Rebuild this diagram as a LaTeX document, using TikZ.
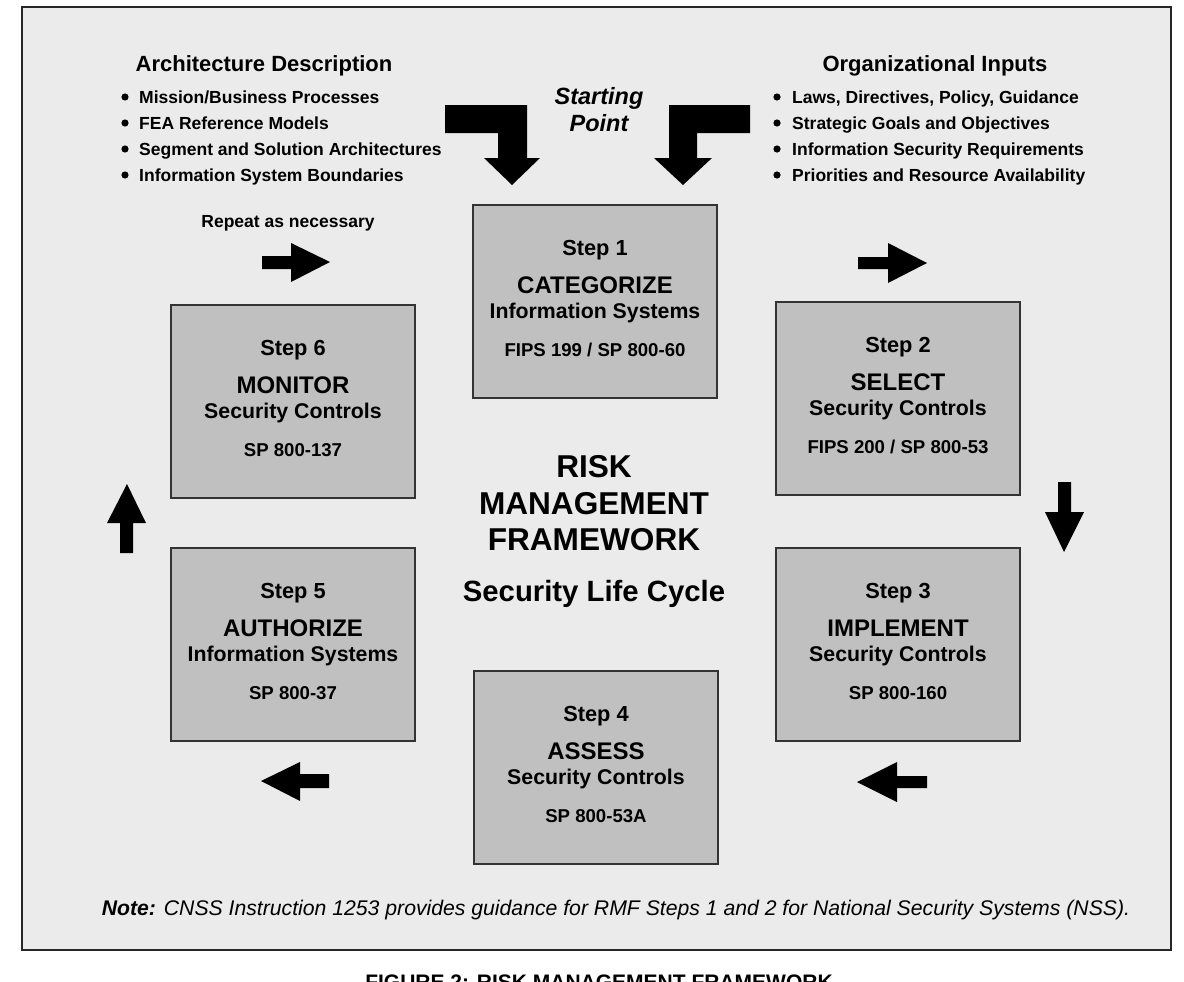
\documentclass[tikz,border=0pt]{standalone}
\usepackage{fontspec}
\setmainfont{Liberation Sans}
\definecolor{bgc}{HTML}{EBEBEB}
\definecolor{boxfill}{HTML}{C0C0C0}
\definecolor{boxline}{HTML}{333333}
\newcommand\fsz[1]{\fontsize{#1}{#1}\selectfont}
\newcommand\rmfstep[7]{%
  \node[stepbox, anchor=north] (#1) at (#2,#3+1) {};
  \node[txt, font=\fsz{21.8}\bfseries] (#1a) at (#2,#3+52) {#4};
  \node[txt, font=\fsz{24}\bfseries] (#1b) at (#2,#3+90) {#5};
  \node[txt, font=\fsz{21.3}\bfseries] (#1c) at (#2,#3+115) {#6};
  \node[txt, font=\fsz{18.6}\bfseries] (#1d) at (#2,#3+153) {#7};
}
\begin{document}
\begin{tikzpicture}[x=1pt,y=-1pt,
  stepbox/.style={draw=boxline, line width=2pt, fill=boxfill,
    minimum width=244pt, minimum height=193pt, inner sep=0pt},
  txt/.style={anchor=base, inner sep=0pt},
  ltxt/.style={anchor=base west, inner sep=0pt, font=\fsz{17.5}\bfseries},
  blk/.style={fill=black}]
\useasboundingbox (0,0) rectangle (1184,982);
\fill[white] (0,0) rectangle (1184,982);
\draw[fill=bgc, line width=2.2pt, draw=black!85] (22,7) rectangle (1171,950);

% headings
\node[txt, font=\fsz{22}\bfseries] (archh) at (264,71) {Architecture Description};
\node[txt, font=\fsz{22}\bfseries] (orgh) at (935,71) {Organizational Inputs};
\foreach \t [count=\i from 0] in {Mission/Business Processes,FEA Reference Models,Segment and Solution Architectures,Information System Boundaries}{
  \node[ltxt] (al\i) at (139,103+26*\i) {\t};
  \fill (125,97+26*\i) circle (3.6);
}
\foreach \t [count=\i from 0] in {{Laws, Directives, Policy, Guidance},Strategic Goals and Objectives,Information Security Requirements,Priorities and Resource Availability}{
  \node[ltxt] (ol\i) at (792,103+26*\i) {\t};
  \fill (777,97+26*\i) circle (3.6);
}

% starting point
\node[txt, font=\fsz{23.5}\bfseries\itshape] (sp1) at (599,105) {Starting};
\node[txt, font=\fsz{23.5}\bfseries\itshape] (sp2) at (599,131) {Point};
\node[txt, font=\fsz{17.5}\bfseries] (rep) at (288,227) {Repeat as necessary};

% bent arrows
\fill[blk] (445,105) -- (527,105) -- (527,158) -- (540,158) -- (512,185) -- (484,158) -- (498,158) -- (498,133) -- (445,133) -- cycle;
\fill[blk] (750,105) -- (669,105) -- (669,158) -- (654,158) -- (683,185) -- (712,158) -- (697,158) -- (697,133) -- (750,133) -- cycle;

% block arrows
\fill[blk] (262,256) -- (291,256) -- (291,243) -- (330,262) -- (291,282) -- (291,269) -- (262,269) -- cycle;
\fill[blk] (858,257) -- (888,257) -- (888,243) -- (927,263) -- (888,283) -- (888,269) -- (858,269) -- cycle;
\fill[blk] (1058,482) -- (1071,482) -- (1071,512) -- (1084,512) -- (1064,552) -- (1045,512) -- (1058,512) -- cycle;
\fill[blk] (927,776) -- (897,776) -- (897,762) -- (857,782) -- (897,802) -- (897,788) -- (927,788) -- cycle;
\fill[blk] (329,774) -- (300,774) -- (300,762) -- (261,781) -- (300,801) -- (300,788) -- (329,788) -- cycle;
\fill[blk] (120,553) -- (120,523) -- (107,523) -- (127,484) -- (146,523) -- (133,523) -- (133,553) -- cycle;

% steps
\rmfstep{s1}{595}{203}{Step 1}{CATEGORIZE}{Information Systems}{FIPS 199 / SP 800-60}
\rmfstep{s2}{898}{300}{Step 2}{SELECT}{Security Controls}{FIPS 200 / SP 800-53}
\rmfstep{s3}{898}{546}{Step 3}{IMPLEMENT}{Security Controls}{SP 800-160}
\rmfstep{s4}{596}{669}{Step 4}{ASSESS}{Security Controls}{SP 800-53A}
\rmfstep{s5}{293}{546}{Step 5}{AUTHORIZE}{Information Systems}{SP 800-37}
\rmfstep{s6}{293}{303}{Step 6}{MONITOR}{Security Controls}{SP 800-137}

% center
\node[txt, font=\fsz{31.6}\bfseries] (c1) at (594,477) {RISK};
\node[txt, font=\fsz{31.6}\bfseries] (c2) at (594,514) {MANAGEMENT};
\node[txt, font=\fsz{31.6}\bfseries] (c3) at (594,550) {FRAMEWORK};
\node[txt, font=\fsz{29.3}\bfseries] (c4) at (594,601) {Security Life Cycle};

% note and caption
\node[txt, font=\fsz{21.2}\itshape] (note) at (616,915) {\textbf{Note:} CNSS Instruction 1253 provides guidance for RMF Steps 1 and 2 for National Security Systems (NSS).};
\node[txt, font=\fsz{21}\bfseries] (cap) at (599,989) {FIGURE 2: RISK MANAGEMENT FRAMEWORK};
\end{tikzpicture}
\end{document}
